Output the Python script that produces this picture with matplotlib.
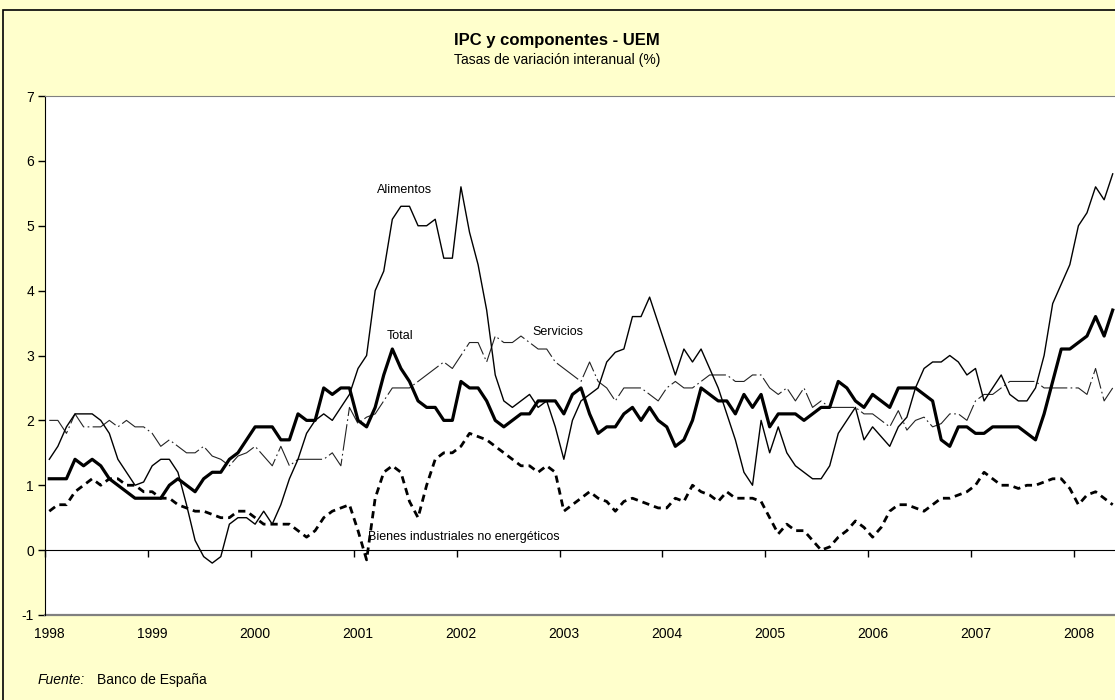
import matplotlib.pyplot as plt
import numpy as np
import matplotlib.patches as patches
from matplotlib.ticker import FixedLocator, FixedFormatter

plt.rcParams['font.family'] = ['Liberation Sans', 'DejaVu Sans']

# Monthly year-on-year rates, Jan 1998 - May 2008
total = [
    1.1, 1.1, 1.1, 1.4, 1.3, 1.4, 1.3, 1.1, 1.0, 0.9, 0.8, 0.8,
    0.8, 0.8, 1.0, 1.1, 1.0, 0.9, 1.1, 1.2, 1.2, 1.4, 1.5, 1.7,
    1.9, 1.9, 1.9, 1.7, 1.7, 2.1, 2.0, 2.0, 2.5, 2.4, 2.5, 2.5,
    2.0, 1.9, 2.2, 2.7, 3.1, 2.8, 2.6, 2.3, 2.2, 2.2, 2.0, 2.0,
    2.6, 2.5, 2.5, 2.3, 2.0, 1.9, 2.0, 2.1, 2.1, 2.3, 2.3, 2.3,
    2.1, 2.4, 2.5, 2.1, 1.8, 1.9, 1.9, 2.1, 2.2, 2.0, 2.2, 2.0,
    1.9, 1.6, 1.7, 2.0, 2.5, 2.4, 2.3, 2.3, 2.1, 2.4, 2.2, 2.4,
    1.9, 2.1, 2.1, 2.1, 2.0, 2.1, 2.2, 2.2, 2.6, 2.5, 2.3, 2.2,
    2.4, 2.3, 2.2, 2.5, 2.5, 2.5, 2.4, 2.3, 1.7, 1.6, 1.9, 1.9,
    1.8, 1.8, 1.9, 1.9, 1.9, 1.9, 1.8, 1.7, 2.1, 2.6, 3.1, 3.1,
    3.2, 3.3, 3.6, 3.3, 3.7]

alimentos = [
    1.4, 1.6, 1.9, 2.1, 2.1, 2.1, 2.0, 1.8, 1.4, 1.2, 1.0, 1.05,
    1.3, 1.4, 1.4, 1.2, 0.7, 0.15, -0.1, -0.2, -0.1, 0.4, 0.5, 0.5,
    0.4, 0.6, 0.4, 0.7, 1.1, 1.4, 1.8, 2.0, 2.1, 2.0, 2.2, 2.4,
    2.8, 3.0, 4.0, 4.3, 5.1, 5.3, 5.3, 5.0, 5.0, 5.1, 4.5, 4.5,
    5.6, 4.9, 4.4, 3.7, 2.7, 2.3, 2.2, 2.3, 2.4, 2.2, 2.3, 1.9,
    1.4, 2.0, 2.3, 2.4, 2.5, 2.9, 3.05, 3.1, 3.6, 3.6, 3.9, 3.5,
    3.1, 2.7, 3.1, 2.9, 3.1, 2.8, 2.5, 2.1, 1.7, 1.2, 1.0, 2.0,
    1.5, 1.9, 1.5, 1.3, 1.2, 1.1, 1.1, 1.3, 1.8, 2.0, 2.2, 1.7,
    1.9, 1.75, 1.6, 1.9, 2.05, 2.5, 2.8, 2.9, 2.9, 3.0, 2.9, 2.7,
    2.8, 2.3, 2.5, 2.7, 2.4, 2.3, 2.3, 2.5, 3.0, 3.8, 4.1, 4.4,
    5.0, 5.2, 5.6, 5.4, 5.8]

servicios = [
    2.0, 2.0, 1.8, 2.1, 1.9, 1.9, 1.9, 2.0, 1.9, 2.0, 1.9, 1.9,
    1.8, 1.6, 1.7, 1.6, 1.5, 1.5, 1.6, 1.45, 1.4, 1.3, 1.45, 1.5,
    1.6, 1.45, 1.3, 1.6, 1.3, 1.4, 1.4, 1.4, 1.4, 1.5, 1.3, 2.2,
    1.95, 2.05, 2.1, 2.3, 2.5, 2.5, 2.5, 2.6, 2.7, 2.8, 2.9, 2.8,
    3.0, 3.2, 3.2, 2.9, 3.3, 3.2, 3.2, 3.3, 3.2, 3.1, 3.1, 2.9,
    2.8, 2.7, 2.6, 2.9, 2.6, 2.5, 2.3, 2.5, 2.5, 2.5, 2.4, 2.3,
    2.5, 2.6, 2.5, 2.5, 2.6, 2.7, 2.7, 2.7, 2.6, 2.6, 2.7, 2.7,
    2.5, 2.4, 2.5, 2.3, 2.5, 2.2, 2.3, 2.2, 2.2, 2.2, 2.2, 2.1,
    2.1, 2.0, 1.9, 2.15, 1.85, 2.0, 2.05, 1.9, 1.95, 2.1, 2.1, 2.0,
    2.3, 2.4, 2.4, 2.5, 2.6, 2.6, 2.6, 2.6, 2.5, 2.5, 2.5, 2.5,
    2.5, 2.4, 2.8, 2.3, 2.5]

bienes_ind = [
    0.6, 0.7, 0.7, 0.9, 1.0, 1.1, 1.0, 1.1, 1.1, 1.0, 1.0, 0.9,
    0.9, 0.8, 0.8, 0.7, 0.65, 0.6, 0.6, 0.55, 0.5, 0.5, 0.6, 0.6,
    0.5, 0.4, 0.4, 0.4, 0.4, 0.3, 0.2, 0.3, 0.5, 0.6, 0.65, 0.7,
    0.3, -0.15, 0.8, 1.2, 1.3, 1.2, 0.75, 0.5, 1.0, 1.4, 1.5, 1.5,
    1.6, 1.8, 1.75, 1.7, 1.6, 1.5, 1.4, 1.3, 1.3, 1.2, 1.3, 1.2,
    0.6, 0.7, 0.8, 0.9, 0.8, 0.75, 0.6, 0.75, 0.8, 0.75, 0.7, 0.65,
    0.65, 0.8, 0.75, 1.0, 0.9, 0.85, 0.75, 0.9, 0.8, 0.8, 0.8, 0.75,
    0.5, 0.25, 0.4, 0.3, 0.3, 0.15, 0.0, 0.05, 0.2, 0.3, 0.45, 0.35,
    0.2, 0.35, 0.6, 0.7, 0.7, 0.65, 0.6, 0.7, 0.8, 0.8, 0.85, 0.9,
    1.0, 1.2, 1.1, 1.0, 1.0, 0.95, 1.0, 1.0, 1.05, 1.1, 1.1, 0.95,
    0.7, 0.85, 0.9, 0.8, 0.7]

years = list(range(1998, 2009))
y_ticks = list(range(-1, 8))

n = len(total)
x = 1998 + (np.arange(n) + 0.5) / 12   # month centres

W, H = 1115, 700
fig = plt.figure(figsize=(W / 100, H / 100), dpi=100)
fig.patch.set_facecolor('#FFFFCC')

# plot area: x 45..1117 px, y 96..615 px
ax = fig.add_axes([45 / W, 85 / H, 1072 / W, 519 / H])
ax.set_facecolor('white')

ax.plot(x, bienes_ind, color='black', lw=2.0, dashes=(2.6, 1.8))
ax.plot(x, servicios, color='#222222', lw=0.8, dashes=(24, 3, 1.5, 3))
ax.plot(x, alimentos, color='black', lw=1.0)
ax.plot(x, total, color='black', lw=2.3, solid_joinstyle='round')

ax.set_xlim(1998, 1998 + n / 12)
ax.set_ylim(-1, 7)

# spines
ax.spines['right'].set_visible(False)
ax.spines['top'].set_color('#808080')
ax.spines['left'].set_color('black')
ax.spines['bottom'].set_position(('data', 0))
ax.spines['bottom'].set_color('black')
ax.axhline(-1, color='#808080', lw=1.6, clip_on=False)

# x: ticks on the zero line at year starts, labels low under the plot
ax.set_xticks(years)
ax.set_xticklabels([])
ax.xaxis.set_minor_locator(FixedLocator(np.array(years) + 1 / 24))
ax.xaxis.set_minor_formatter(FixedFormatter([str(yr) for yr in years]))
ax.tick_params(axis='x', which='major', direction='out', length=5, width=1)
ax.tick_params(axis='x', which='minor', length=0, pad=55, labelsize=10)

ax.set_yticks(y_ticks)
ax.set_yticklabels([str(v) for v in y_ticks])
ax.tick_params(axis='y', direction='out', length=5, width=1, pad=3, labelsize=10)

# series labels
ax.text(2001.49, 5.55, 'Alimentos', ha='center', va='center', fontsize=9)
ax.text(2001.45, 3.3, 'Total', ha='center', va='center', fontsize=9)
ax.text(2002.98, 3.36, 'Servicios', ha='center', va='center', fontsize=9)
ax.text(2001.14, 0.2, 'Bienes industriales no energéticos', ha='left', va='center', fontsize=9)

# titles
fig.text(557 / W, 1 - 41 / H, 'IPC y componentes - UEM', ha='center', va='center',
         fontsize=12, fontweight='bold')
fig.text(557 / W, 1 - 60 / H, 'Tasas de variación interanual (%)', ha='center', va='center',
         fontsize=10)

# source
fig.text(38 / W, 1 - 680 / H, 'Fuente:', ha='left', va='center', fontsize=10, style='italic')
fig.text(97 / W, 1 - 680 / H, 'Banco de España', ha='left', va='center', fontsize=10)

# outer frame of the chart
fig.add_artist(patches.Rectangle((3 / W, -0.01), 1.1, (H - 10) / H + 0.01,
                                 transform=fig.transFigure, fill=False,
                                 edgecolor='black', lw=1.2))

fig.savefig('out.png', dpi=100, facecolor=fig.get_facecolor())
